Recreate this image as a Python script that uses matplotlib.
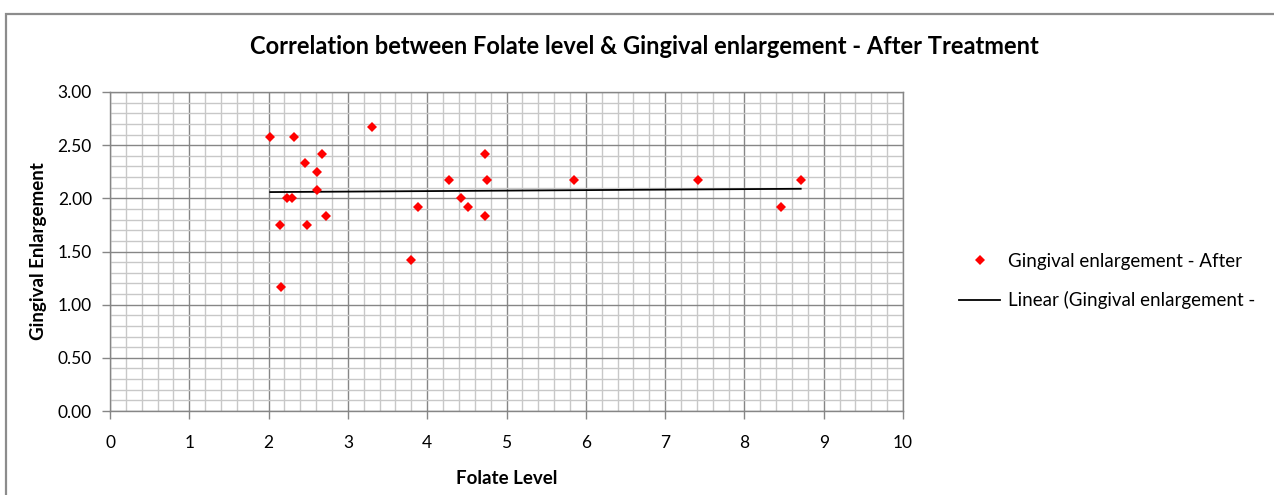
import numpy as np
import matplotlib
matplotlib.use("Agg")
import matplotlib.pyplot as plt
from matplotlib.patches import Rectangle
from matplotlib.ticker import MultipleLocator, FormatStrFormatter

plt.rcParams['font.family'] = ['Lato', 'DejaVu Sans']

# data
folate = [2.02, 2.32, 3.30, 2.67, 2.46, 2.61, 2.61, 2.23, 2.30, 2.73, 2.14, 2.48, 2.16,
          3.89, 3.79, 4.73, 4.28, 4.75, 5.85, 4.42, 4.51, 4.73, 7.42, 8.71, 8.46]
gingival = [2.58, 2.58, 2.67, 2.42, 2.33, 2.25, 2.08, 2.00, 2.00, 1.83, 1.75, 1.75, 1.17,
            1.92, 1.42, 2.42, 2.17, 2.17, 2.17, 2.00, 1.92, 1.83, 2.17, 2.17, 1.92]

title = "Correlation between Folate level & Gingival enlargement - After Treatment"
series_label = "Gingival enlargement - After"
trend_label = "Linear (Gingival enlargement -"

W, H = 1274, 495
fig = plt.figure(figsize=(W / 100, H / 100), dpi=100)
ax = fig.add_axes([110 / W, 1 - 411 / H, (903 - 110) / W, (411 - 92) / H])

# outer chart frame
fig.patches.append(Rectangle((6 / W, -0.1), 1.2, 1 - 14 / H + 0.1, transform=fig.transFigure,
                             fill=False, edgecolor='#8c8c8c', linewidth=1.6))

x = np.array(folate)
y = np.array(gingival)
ax.plot(x, y, 'D', color='#ff0000', markersize=5, markeredgewidth=0, label=series_label, zorder=3)

# linear trend like Excel
k, b = np.polyfit(x, y, 1)
xt = np.array([x.min(), x.max()])
ax.plot(xt, k * xt + b, color='black', linewidth=1.3, label=trend_label, zorder=2)

ax.set_xlim(0, 10)
ax.set_ylim(0, 3)
ax.xaxis.set_major_locator(MultipleLocator(1))
ax.xaxis.set_minor_locator(MultipleLocator(0.2))
ax.yaxis.set_major_locator(MultipleLocator(0.5))
ax.yaxis.set_minor_locator(MultipleLocator(0.1))
ax.yaxis.set_major_formatter(FormatStrFormatter('%.2f'))

ax.grid(which='minor', color='#c8c8c8', linewidth=1.0, zorder=0)
ax.grid(which='major', color='#868686', linewidth=1.0, zorder=1)
ax.set_axisbelow(True)
for s in ax.spines.values():
    s.set_color('#868686')
    s.set_linewidth(1.0)

ax.tick_params(which='major', direction='out', length=6, width=1, color='#868686',
               labelsize=12.5, labelcolor='black')
ax.tick_params(axis='x', pad=11)
ax.tick_params(axis='y', pad=7)
ax.tick_params(which='minor', length=0)

ax.set_xlabel("Folate Level", fontsize=13.5, fontweight='bold', labelpad=14)
ax.set_ylabel("Gingival Enlargement", fontsize=13.5, fontweight='bold', labelpad=8)
fig.text(644 / W, 1 - 47 / H, title, ha='center', va='center', fontsize=17, fontweight='bold')

ax.legend(loc='center left', bbox_to_anchor=(942 / W, 1 - 281 / H), bbox_transform=fig.transFigure,
          frameon=False, fontsize=13.5, handlelength=2.2, labelspacing=1.15, handletextpad=0.4)

fig.savefig("out.png", dpi=100)
